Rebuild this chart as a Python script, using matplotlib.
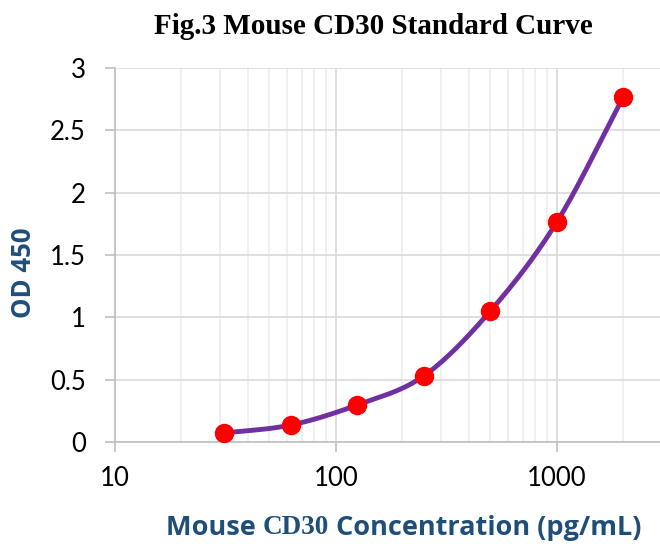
import numpy as np
import matplotlib.pyplot as plt

# standard curve data
conc = [31.25, 62.5, 125, 250, 500, 1000, 2000]
od = [0.072, 0.136, 0.297, 0.53, 1.05, 1.764, 2.767]
y_ticks = [0, 0.5, 1, 1.5, 2, 2.5, 3]
y_tick_labels = ["0", "0.5", "1", "1.5", "2", "2.5", "3"]
x_ticks = [10, 100, 1000]
x_tick_labels = ["10", "100", "1000"]
# x label is written in mixed fonts in the original
xlabel_parts = [("Mouse ", "Open Sans"), ("CD30", "Liberation Serif"),
                (" Concentration (pg/mL)", "Open Sans")]


def smooth_line(x, y, n=30):
    # Catmull-Rom style smoothing in log-x space, like Excel's smoothed line
    lx = np.log10(np.asarray(x, float))
    y = np.asarray(y, float)
    px = np.concatenate([[2 * lx[0] - lx[1]], lx, [2 * lx[-1] - lx[-2]]])
    py = np.concatenate([[2 * y[0] - y[1]], y, [2 * y[-1] - y[-2]]])
    xs, ys = [], []
    t = np.linspace(0, 1, n)
    for i in range(1, len(px) - 2):
        for arr, out in ((px, xs), (py, ys)):
            p0, p1, p2, p3 = arr[i - 1:i + 3]
            out.append(0.5 * ((2 * p1) + (-p0 + p2) * t
                              + (2 * p0 - 5 * p1 + 4 * p2 - p3) * t ** 2
                              + (-p0 + 3 * p1 - 3 * p2 + p3) * t ** 3))
    return 10 ** np.concatenate(xs), np.concatenate(ys)


fig = plt.figure(figsize=(6.6, 5.44), dpi=100)
ax = fig.add_axes([0.174, 0.1875, 0.826, 0.6875])

sx, sy = smooth_line(conc, od)
ax.plot(sx, sy, color="#7030A0", lw=3.5, zorder=3)
ax.plot(conc, od, "o", color="#FF0000", ms=13, zorder=4)

ax.set_xscale("log")
ax.set_xlim(10, 2930)
ax.set_ylim(0, 3)
ax.set_xticks(x_ticks)
ax.set_xticklabels(x_tick_labels)
ax.set_yticks(y_ticks)
ax.set_yticklabels(y_tick_labels)

ax.grid(True, which="major", color="#D9D9D9", lw=1.2)
ax.grid(True, which="minor", axis="x", color="#EDEDED", lw=1.2)
ax.set_axisbelow(True)
for s in ["top", "right"]:
    ax.spines[s].set_visible(False)
for s in ["left", "bottom"]:
    ax.spines[s].set_color("#BFBFBF")
    ax.spines[s].set_linewidth(1.2)
ax.tick_params(axis="both", which="major", color="#BFBFBF", length=7, width=1.2,
               labelsize=18.5)
ax.tick_params(axis="both", which="minor", length=0)
for lab in ax.get_xticklabels() + ax.get_yticklabels():
    lab.set_fontfamily("Lato")
ax.tick_params(axis="x", pad=10)
ax.tick_params(axis="y", pad=14)

fig.text(0.565, 0.952, "Fig.3 Mouse CD30 Standard Curve", ha="center", va="center",
         fontsize=21, fontweight="bold", family="Liberation Serif")
fig.text(0.036, 0.498, "OD 450", rotation=90, ha="center", va="center",
         fontsize=18.5, fontweight="bold", color="#1F4E79", family="Open Sans")

# x label: lay the parts out one after another, centred as a whole
renderer = fig.canvas.get_renderer()
pieces = []
for txt, fam in xlabel_parts:
    t = fig.text(0, 0.03, txt, ha="left", va="center", fontsize=19.5,
                 fontweight="bold", color="#1F4E79", family=fam)
    pieces.append(t)
widths = [p.get_window_extent(renderer).width / fig.bbox.width for p in pieces]
x0 = 0.611 - sum(widths) / 2
for p, w in zip(pieces, widths):
    p.set_x(x0)
    x0 += w

fig.savefig("out.png", dpi=100)
